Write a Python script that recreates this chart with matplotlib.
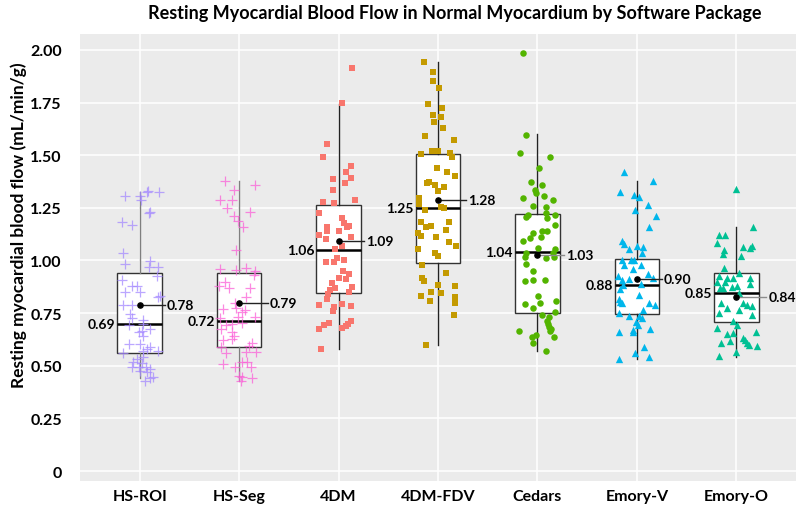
import matplotlib

matplotlib.use("Agg")
import matplotlib.pyplot as plt


packages = ["HS-ROI", "HS-Seg", "4DM", "4DM-FDV", "Cedars", "Emory-V", "Emory-O"]

# box statistics (mL/min/g)
q1 = [0.560, 0.588, 0.844, 0.990, 0.749, 0.747, 0.706]
median = [0.697, 0.714, 1.051, 1.248, 1.040, 0.885, 0.847]
q3 = [0.939, 0.939, 1.262, 1.504, 1.221, 1.009, 0.939]
whislo = [0.442, 0.428, 0.580, 0.600, 0.572, 0.532, 0.540]
whishi = [1.327, 1.379, 1.743, 1.943, 1.600, 1.379, 1.161]
mean = [0.789, 0.800, 1.093, 1.286, 1.026, 0.910, 0.827]
median_labels = ["0.69", "0.72", "1.06", "1.25", "1.04", "0.88", "0.85"]
mean_labels = ["0.78", "0.79", "1.09", "1.28", "1.03", "0.90", "0.84"]

# individual patients: flow value and horizontal jitter
hs_roi_y = [1.308, 1.305, 1.289, 1.324, 1.332, 1.324, 1.232, 1.224, 1.181, 1.170,
            1.035, 0.983, 0.999, 0.967, 0.967, 0.928, 0.909, 0.880, 0.880, 0.849,
            0.852, 0.833, 0.825, 0.788, 0.788, 0.746, 0.725, 0.719, 0.693, 0.698,
            0.659, 0.667, 0.674, 0.643, 0.603, 0.603, 0.579, 0.571, 0.587, 0.571,
            0.560, 0.540, 0.532, 0.519, 0.513, 0.492, 0.492, 0.492, 0.484, 0.469,
            0.477, 0.440, 0.445, 0.429]
hs_roi_dx = [-0.15, 0.00, 0.01, 0.07, 0.08, 0.19, 0.10, 0.09, -0.18, -0.08,
             -0.17, -0.15, 0.10, 0.09, 0.18, 0.17, -0.18, -0.08, -0.03, -0.15,
             0.00, 0.20, 0.18, -0.17, -0.08, -0.10, -0.08, 0.03, -0.11, 0.03,
             -0.01, 0.02, 0.10, 0.03, -0.11, 0.00, 0.07, 0.03, 0.10, 0.18,
             -0.17, 0.03, -0.03, -0.07, 0.02, -0.08, -0.01, 0.06, 0.10, 0.07,
             0.00, 0.10, 0.13, 0.05]

hs_seg_y = [1.380, 1.361, 1.337, 1.289, 1.289, 1.248, 1.229, 1.213, 1.190, 1.158,
            1.050, 0.960, 0.957, 0.966, 0.952, 0.931, 0.900, 0.881, 0.868, 0.871,
            0.825, 0.798, 0.770, 0.767, 0.773, 0.754, 0.730, 0.726, 0.699, 0.703,
            0.694, 0.730, 0.675, 0.659, 0.643, 0.620, 0.627, 0.608, 0.596, 0.588,
            0.567, 0.567, 0.561, 0.509, 0.493, 0.520, 0.517, 0.493, 0.453, 0.445,
            0.442, 0.429]
hs_seg_dx = [-0.14, 0.16, -0.05, -0.19, -0.07, -0.12, 0.11, -0.05, -0.01, 0.04,
             -0.03, -0.19, -0.03, 0.07, 0.16, 0.15, -0.14, -0.20, -0.10, 0.11,
             0.07, -0.04, -0.16, 0.06, -0.03, 0.03, -0.01, -0.19, -0.07, 0.03,
             -0.13, 0.16, -0.18, -0.07, -0.05, -0.16, -0.07, 0.13, 0.10, -0.18,
             0.07, 0.17, -0.13, -0.16, -0.04, 0.03, 0.08, 0.12, 0.00, 0.03,
             0.13, 0.02]

dm4_y = [1.913, 1.746, 1.552, 1.493, 1.449, 1.420, 1.387, 1.390, 1.370, 1.336,
         1.287, 1.279, 1.273, 1.225, 1.203, 1.178, 1.160, 1.165, 1.157, 1.140,
         1.142, 1.122, 1.110, 1.102, 1.069, 1.054, 0.991, 0.994, 1.010, 1.001,
         0.948, 0.936, 0.917, 0.912, 0.893, 0.872, 0.868, 0.861, 0.841, 0.852,
         0.817, 0.790, 0.793, 0.777, 0.782, 0.761, 0.714, 0.698, 0.701, 0.693,
         0.687, 0.678, 0.674, 0.579]
dm4_dx = [0.14, 0.03, -0.12, -0.16, 0.13, 0.07, -0.06, 0.13, 0.06, -0.06,
          0.17, -0.16, -0.05, -0.20, 0.03, 0.05, -0.12, 0.10, 0.08, -0.12,
          0.00, -0.20, 0.13, -0.13, 0.03, -0.04, -0.13, -0.05, -0.02, 0.05,
          0.04, 0.10, 0.00, 0.07, -0.07, 0.14, -0.04, -0.09, -0.11, 0.10,
          -0.12, -0.20, 0.03, -0.05, 0.13, -0.06, 0.13, 0.09, -0.10, -0.15,
          0.07, 0.03, -0.20, -0.18]

dm4_fdv_y = [1.941, 1.897, 1.854, 1.819, 1.743, 1.724, 1.691, 1.680, 1.660, 1.629,
             1.591, 1.572, 1.522, 1.522, 1.506, 1.509, 1.493, 1.439, 1.420, 1.401,
             1.367, 1.371, 1.360, 1.351, 1.332, 1.295, 1.268, 1.253, 1.249, 1.240,
             1.181, 1.181, 1.161, 1.164, 1.145, 1.132, 1.116, 1.110, 1.089, 1.070,
             1.055, 1.034, 1.023, 0.980, 0.942, 0.917, 0.901, 0.884, 0.881, 0.852,
             0.844, 0.825, 0.830, 0.800, 0.806, 0.741, 0.599]
dm4_fdv_dx = [-0.14, -0.05, -0.05, 0.01, -0.10, 0.04, -0.05, 0.03, -0.04, 0.05,
              -0.13, 0.16, -0.06, 0.00, -0.17, 0.12, 0.14, -0.01, 0.09, 0.17,
              -0.11, -0.09, -0.03, 0.06, 0.00, -0.19, -0.19, 0.03, 0.06, -0.13,
              -0.17, 0.11, -0.12, -0.07, 0.08, -0.20, -0.17, -0.02, 0.11, 0.18,
              -0.20, -0.03, 0.00, -0.16, 0.08, -0.16, -0.14, 0.00, 0.17, -0.07,
              0.03, 0.17, -0.17, 0.17, -0.08, 0.16, -0.12]

cedars_y = [1.985, 1.597, 1.509, 1.494, 1.441, 1.371, 1.360, 1.334, 1.323, 1.298,
            1.307, 1.289, 1.257, 1.252, 1.228, 1.216, 1.205, 1.216, 1.200, 1.141,
            1.138, 1.130, 1.113, 1.106, 1.168, 1.092, 1.060, 1.057, 1.037, 1.019,
            1.014, 1.038, 1.018, 0.983, 0.950, 0.904, 0.908, 0.908, 0.829, 0.798,
            0.791, 0.775, 0.809, 0.753, 0.742, 0.730, 0.711, 0.698, 0.685, 0.674,
            0.663, 0.635, 0.663, 0.646, 0.638, 0.609, 0.571]
cedars_dx = [-0.15, -0.12, -0.18, 0.13, 0.02, -0.06, 0.05, -0.02, -0.01, -0.15,
             0.07, 0.16, -0.04, 0.09, 0.09, -0.10, -0.12, 0.18, 0.10, 0.05,
             0.10, -0.04, 0.04, -0.07, 0.18, -0.15, 0.01, 0.18, -0.12, -0.13,
             0.09, 0.16, 0.17, -0.12, -0.04, -0.13, -0.04, 0.08, 0.01, 0.03,
             -0.13, -0.04, 0.19, 0.18, 0.05, 0.12, 0.10, 0.11, 0.12, 0.14,
             0.13, 0.17, -0.19, -0.01, -0.05, -0.04, 0.09]

emory_v_y = [1.422, 1.379, 1.327, 1.313, 1.303, 1.263, 1.241, 1.210, 1.157, 1.094,
             1.078, 1.067, 1.054, 1.062, 1.035, 1.004, 1.002, 1.004, 0.978, 0.978,
             0.936, 0.959, 0.928, 0.909, 0.912, 0.915, 0.883, 0.888, 0.864, 0.836,
             0.817, 0.804, 0.796, 0.790, 0.798, 0.766, 0.750, 0.738, 0.735, 0.725,
             0.709, 0.693, 0.674, 0.659, 0.670, 0.659, 0.590, 0.560, 0.532, 0.540]
emory_v_dx = [-0.13, 0.16, -0.17, -0.03, 0.02, 0.11, -0.02, 0.19, 0.12, -0.15,
              -0.13, 0.00, -0.08, 0.06, 0.05, -0.15, -0.06, -0.03, -0.13, 0.04,
              0.11, -0.04, -0.19, -0.15, -0.08, 0.16, -0.14, 0.04, -0.17, 0.02,
              -0.18, -0.17, 0.12, 0.18, -0.15, 0.06, -0.18, -0.08, 0.02, 0.05,
              -0.01, 0.01, 0.13, -0.18, -0.04, -0.04, 0.07, -0.02, -0.18, 0.12]

emory_o_y = [1.340, 1.161, 1.123, 1.121, 1.083, 1.066, 1.070, 1.058, 1.050, 1.031,
             1.023, 0.963, 0.939, 0.925, 0.915, 0.915, 0.915, 0.896, 0.899, 0.877,
             0.888, 0.868, 0.872, 0.868, 0.845, 0.798, 0.798, 0.789, 0.785, 0.772,
             0.765, 0.750, 0.741, 0.714, 0.693, 0.678, 0.662, 0.651, 0.655, 0.630,
             0.622, 0.619, 0.608, 0.598, 0.595, 0.608, 0.567, 0.545]
emory_o_dx = [0.00, 0.17, -0.17, -0.11, -0.19, 0.07, 0.16, 0.14, -0.12, -0.13,
              0.05, -0.12, 0.03, -0.17, -0.09, -0.03, 0.14, -0.19, -0.11, 0.01,
              0.14, -0.16, -0.04, -0.13, 0.03, -0.15, 0.07, 0.11, 0.16, -0.09,
              0.03, -0.17, 0.16, -0.03, 0.01, -0.19, 0.20, -0.09, -0.03, 0.07,
              0.09, -0.06, 0.11, 0.13, 0.21, -0.15, 0.00, -0.17]

points_y = [hs_roi_y, hs_seg_y, dm4_y, dm4_fdv_y, cedars_y, emory_v_y, emory_o_y]
points_dx = [hs_roi_dx, hs_seg_dx, dm4_dx, dm4_fdv_dx, cedars_dx, emory_v_dx, emory_o_dx]

colors = ["#A58AFF", "#FB61D7", "#F8766D", "#C49A00", "#53B400", "#00B6EB", "#00C094"]
markers = ["+", "+", "s", "s", "o", "^", "^"]
sizes = [55, 55, 20, 20, 22, 28, 28]
whisker_colors = ["#7f7f7f", "#7f7f7f", "#222222", "#222222", "#222222", "#222222", "#222222"]
link_colors = ["#222222", "#222222", "#222222", "#222222", "#8c8c8c", "#222222", "#8c8c8c"]
mean_label_dx = [0.27, 0.31, 0.28, 0.30, 0.29, 0.27, 0.32]

FONT = ["Lato", "DejaVu Sans"]

fig = plt.figure(figsize=(7.97, 5.10), dpi=100)
ax = fig.add_axes([80 / 797, 1 - 482 / 510, 716 / 797, 447 / 510])
ax.set_facecolor("#EBEBEB")
for side in ax.spines.values():
    side.set_visible(False)

positions = list(range(1, len(packages) + 1))
stats = [
    {"med": median[i], "q1": q1[i], "q3": q3[i], "whislo": whislo[i], "whishi": whishi[i], "fliers": []}
    for i in range(len(packages))
]
parts = ax.bxp(
    stats, positions=positions, widths=0.45, patch_artist=True, showcaps=False,
    boxprops=dict(facecolor="white", edgecolor="#333333", linewidth=1.0),
    medianprops=dict(color="black", linewidth=1.8),
    whiskerprops=dict(linewidth=1.0), zorder=2,
)
for i in range(len(packages)):
    for w in parts["whiskers"][2 * i:2 * i + 2]:
        w.set_color(whisker_colors[i])

for i, pos in enumerate(positions):
    xs = [pos + d for d in points_dx[i]]
    if markers[i] == "+":
        ax.scatter(xs, points_y[i], marker="+", s=sizes[i], color=colors[i],
                   linewidths=0.9, alpha=0.75, zorder=3)
    else:
        ax.scatter(xs, points_y[i], marker=markers[i], s=sizes[i], color=colors[i],
                   linewidths=0, zorder=3)

    ax.plot([pos, pos + mean_label_dx[i] - 0.02], [mean[i], mean[i]],
            color=link_colors[i], linewidth=1.0, zorder=4)
    ax.scatter([pos], [mean[i]], s=14, color="black", zorder=5)
    ax.text(pos + mean_label_dx[i], mean[i], mean_labels[i], ha="left", va="center",
            fontsize=10, fontweight="bold", family=FONT, zorder=5)
    ax.text(pos - 0.245, median[i], median_labels[i], ha="right", va="center",
            fontsize=10, fontweight="bold", family=FONT, zorder=5)

ax.set_xlim(0.4, 7.6)
ax.set_ylim(-0.0475, 2.076)
ax.set_xticks(positions)
ax.set_xticklabels(packages)
ax.set_yticks([0, 0.25, 0.5, 0.75, 1.0, 1.25, 1.5, 1.75, 2.0])
ax.set_yticklabels(["0", "0.25", "0.50", "0.75", "1.00", "1.25", "1.50", "1.75", "2.00"])
ax.grid(True, color="white", linewidth=1.1)
ax.set_axisbelow(True)
ax.tick_params(axis="both", length=0, labelsize=11.5)
ax.tick_params(axis="y", pad=13)
ax.tick_params(axis="x", pad=6)
for lab in ax.get_xticklabels() + ax.get_yticklabels():
    lab.set_fontweight("bold")
    lab.set_family(FONT)

fig.text(455 / 797, 1 - 14 / 510, "Resting Myocardial Blood Flow in Normal Myocardium by Software Package",
         ha="center", va="center", fontsize=13, fontweight="bold", family=FONT)
fig.text(19 / 797, 1 - 225 / 510, "Resting myocardial blood flow (mL/min/g)",
         ha="center", va="center", rotation=90, fontsize=12.5, fontweight="bold", family=FONT)

fig.savefig("out.png", dpi=100, facecolor="white")
